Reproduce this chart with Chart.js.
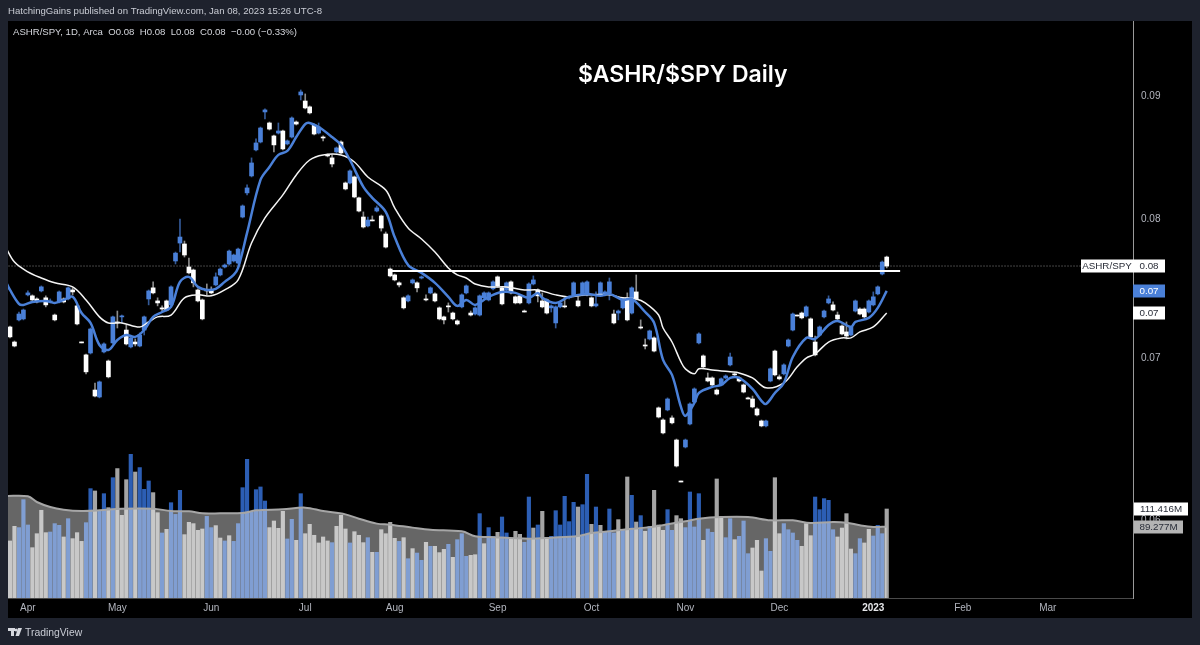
<!DOCTYPE html>
<html>
<head>
<meta charset="utf-8">
<title>ASHR/SPY Daily</title>
<style>
  html, body { margin: 0; padding: 0; background: #1e222d; }
  canvas { display: block; }
</style>
</head>
<body>
<canvas id="priceChart" width="1200" height="645"></canvas>
<script src="https://cdn.jsdelivr.net/npm/chart.js@4/dist/chart.umd.min.js"></script>
<script>
// daily candles, one entry per session
const opens = [.07215,.07112,.07264,.07271,.07440,.07433,.07411,.07468,.07419,.07390,.07298,.07390,.07411,.07411,.07475,.07362,.07112,.07025,.07038,.06793,.06748,.07045,.06984,.07106,.07250,.07285,.07194,.07079,.07112,.07085,.07194,.07411,.07490,.07397,.07348,.07397,.07369,.07685,.07818,.07811,.07641,.07619,.07475,.07404,.07475,.07475,.07511,.07583,.07641,.07663,.07685,.07670,.08015,.08202,.08336,.08546,.08611,.08862,.08769,.08661,.08685,.08702,.08595,.08652,.08777,.09007,.08955,.08905,.08752,.08685,.08652,.08505,.08481,.08530,.08611,.08280,.08280,.08328,.08163,.08015,.07947,.07992,.08061,.08023,.07886,.07626,.07583,.07526,.07419,.07397,.07526,.07526,.07561,.07411,.07454,.07447,.07348,.07285,.07362,.07312,.07257,.07355,.07454,.07312,.07305,.07298,.07419,.07404,.07483,.07569,.07490,.07475,.07533,.07426,.07433,.07326,.07383,.07518,.07475,.07397,.07404,.07348,.07243,.07355,.07362,.07419,.07440,.07397,.07440,.07440,.07419,.07362,.07440,.07440,.07454,.07305,.07312,.07348,.07419,.07312,.07461,.07215,.07092,.07133,.07140,.06678,.06601,.06665,.06614,.06476,.06227,.06433,.06576,.06716,.07106,.07018,.06872,.06872,.06793,.06826,.06872,.06958,.06899,.06872,.06826,.06742,.06735,.06671,.06595,.06564,.06852,.07051,.06879,.06899,.07085,.07194,.07298,.07312,.07291,.07271,.07112,.07160,.07285,.07383,.07369,.07298,.07222,.07181,.07160,.07326,.07340,.07340,.07319,.07369,.07447,.07590,.07714];
const closes = [.07147,.07085,.07305,.07333,.07454,.07404,.07390,.07497,.07369,.07397,.07264,.07461,.07390,.07490,.07461,.07236,.07106,.06912,.07201,.06754,.06846,.07099,.06879,.07285,.07243,.07291,.07099,.07140,.07099,.07160,.07285,.07468,.07454,.07383,.07340,.07333,.07497,.07743,.07863,.07729,.07598,.07526,.07397,.07271,.07468,.07454,.07569,.07626,.07655,.07758,.07729,.07773,.08100,.08241,.08440,.08603,.08727,.08879,.08718,.08587,.08702,.08554,.08620,.08811,.08760,.09033,.08896,.08854,.08677,.08735,.08644,.08497,.08432,.08562,.08521,.08233,.08376,.08170,.08061,.07939,.07992,.07985,.08085,.07931,.07788,.07576,.07547,.07511,.07348,.07433,.07547,.07490,.07569,.07404,.07490,.07397,.07271,.07264,.07355,.07271,.07236,.07440,.07504,.07298,.07348,.07433,.07454,.07454,.07533,.07504,.07376,.07526,.07454,.07383,.07383,.07319,.07518,.07547,.07433,.07355,.07312,.07362,.07355,.07383,.07355,.07426,.07526,.07362,.07526,.07533,.07362,.07376,.07526,.07461,.07533,.07243,.07326,.07411,.07264,.07490,.07411,.07208,.07085,.07188,.07051,.06620,.06520,.06735,.06583,.06317,.06221,.06476,.06703,.06800,.07167,.06945,.06852,.06826,.06767,.06866,.06885,.07011,.06892,.06852,.06780,.06735,.06684,.06633,.06564,.06595,.06932,.06892,.06866,.06958,.07126,.07305,.07291,.07278,.07355,.07147,.07025,.07215,.07326,.07411,.07333,.07271,.07167,.07153,.07215,.07397,.07305,.07285,.07397,.07426,.07497,.07677,.07648];
const highs = [.07222,.07119,.07319,.07340,.07468,.07440,.07419,.07504,.07433,.07411,.07305,.07468,.07419,.07497,.07490,.07369,.07112,.07031,.07208,.06839,.06852,.07106,.06991,.07291,.07326,.07298,.07229,.07147,.07133,.07174,.07291,.07475,.07533,.07419,.07362,.07404,.07504,.07751,.08000,.07833,.07707,.07626,.07483,.07411,.07518,.07497,.07598,.07634,.07663,.07766,.07736,.07781,.08108,.08265,.08481,.08636,.08735,.08888,.08777,.08669,.08769,.08710,.08628,.08820,.08786,.09050,.09016,.08913,.08760,.08769,.08661,.08513,.08505,.08570,.08620,.08288,.08384,.08336,.08170,.08054,.08015,.08023,.08100,.08031,.07901,.07634,.07590,.07533,.07426,.07440,.07554,.07533,.07576,.07440,.07497,.07454,.07355,.07291,.07383,.07319,.07264,.07447,.07511,.07326,.07355,.07440,.07461,.07461,.07540,.07576,.07497,.07533,.07540,.07433,.07440,.07333,.07526,.07576,.07483,.07454,.07411,.07369,.07362,.07390,.07419,.07433,.07533,.07426,.07533,.07540,.07426,.07461,.07533,.07468,.07561,.07333,.07333,.07419,.07454,.07497,.07583,.07264,.07133,.07194,.07147,.06684,.06608,.06742,.06627,.06482,.06227,.06482,.06710,.06807,.07174,.07025,.06905,.06879,.06800,.06872,.06892,.07038,.06905,.06879,.06833,.06748,.06754,.06678,.06601,.06601,.06938,.07058,.06892,.06965,.07133,.07312,.07298,.07319,.07362,.07278,.07153,.07222,.07333,.07433,.07390,.07319,.07229,.07250,.07222,.07404,.07348,.07348,.07404,.07461,.07504,.07685,.07721];
const lows = [.07140,.07079,.07257,.07264,.07433,.07397,.07383,.07461,.07355,.07383,.07257,.07383,.07383,.07404,.07440,.07229,.07106,.06899,.07031,.06748,.06742,.07038,.06872,.07099,.07208,.07243,.07092,.07072,.07085,.07079,.07160,.07369,.07447,.07362,.07319,.07326,.07362,.07663,.07751,.07714,.07590,.07497,.07390,.07264,.07440,.07447,.07504,.07576,.07634,.07655,.07677,.07663,.08008,.08186,.08328,.08538,.08603,.08803,.08710,.08530,.08677,.08546,.08587,.08644,.08752,.08964,.08888,.08845,.08669,.08677,.08620,.08489,.08408,.08521,.08513,.08225,.08272,.08163,.08054,.07931,.07939,.07985,.08054,.07908,.07781,.07569,.07540,.07497,.07340,.07390,.07518,.07461,.07554,.07397,.07447,.07390,.07264,.07236,.07319,.07264,.07229,.07348,.07447,.07291,.07298,.07291,.07411,.07397,.07475,.07497,.07369,.07468,.07447,.07376,.07376,.07319,.07376,.07511,.07390,.07348,.07305,.07319,.07208,.07348,.07348,.07411,.07433,.07355,.07433,.07433,.07355,.07355,.07433,.07433,.07404,.07236,.07264,.07340,.07257,.07305,.07404,.07201,.07065,.07126,.07045,.06614,.06514,.06659,.06576,.06311,.06221,.06427,.06570,.06710,.07099,.06938,.06846,.06820,.06761,.06820,.06866,.06951,.06885,.06846,.06774,.06735,.06678,.06627,.06558,.06558,.06846,.06885,.06859,.06892,.07079,.07188,.07291,.07271,.07285,.07140,.07018,.07153,.07278,.07376,.07326,.07264,.07160,.07133,.07153,.07319,.07298,.07278,.07312,.07362,.07440,.07583,.07634];

// session volume in millions, and whether the bar is coloured as an up day
const volumes = [71.4,89.7,88.1,123.1,91.4,63.0,80.5,109.8,81.8,82.6,93.1,91.0,76.4,99.3,74.3,81.8,70.9,94.3,136.9,134.0,109.8,130.6,113.1,150.6,161.9,103.5,148.1,179.9,157.7,163.2,136.0,146.5,131.9,106.8,81.4,86.0,119.3,104.7,134.8,79.3,94.7,93.1,84.7,86.4,102.2,88.1,90.6,75.1,71.4,78.0,70.9,93.1,138.1,173.6,107.7,135.6,139.0,121.4,88.1,96.4,87.2,108.5,73.9,98.5,72.2,130.6,80.5,92.2,78.5,68.9,76.4,71.4,69.3,89.7,103.5,86.4,68.9,83.0,78.5,69.3,75.5,57.2,57.2,85.5,80.5,94.7,74.7,70.9,75.5,49.2,61.8,56.3,47.2,69.7,64.7,64.7,56.8,60.9,67.2,50.9,73.0,80.5,52.2,53.4,54.2,105.6,68.0,88.1,77.2,82.2,101.4,81.4,74.7,83.5,79.7,69.7,126.4,87.6,91.4,108.5,75.5,77.2,109.3,91.4,127.3,95.6,119.8,113.9,116.8,154.8,92.2,113.9,91.0,82.6,111.4,81.4,98.1,84.7,151.5,128.5,95.1,103.1,83.5,89.7,134.8,91.4,84.7,110.6,84.7,103.1,99.3,88.1,132.7,88.9,130.6,72.2,86.4,82.2,149.0,100.2,75.5,99.3,73.0,77.2,96.4,55.5,62.6,72.2,33.8,74.3,58.4,150.6,80.5,93.1,85.5,81.4,72.2,64.7,93.1,78.0,126.4,110.6,124.4,122.3,85.5,76.4,87.6,105.6,61.3,55.5,74.3,68.9,86.0,77.6,91.0,80.5,111.416];
const volumeUp = [0,0,1,1,1,0,0,0,0,1,1,1,0,1,0,0,0,1,1,0,1,1,0,1,0,0,0,1,0,1,1,1,0,0,1,0,1,1,1,0,0,0,0,0,1,1,0,0,1,0,1,1,1,1,1,1,1,1,0,0,0,0,1,1,0,1,0,0,0,0,0,0,1,0,0,0,1,0,0,0,1,0,1,0,0,0,0,1,0,1,0,1,1,0,1,0,0,0,1,0,1,1,1,0,0,1,0,1,1,0,1,1,0,0,0,1,1,0,1,0,0,1,1,1,1,1,1,0,1,1,0,1,0,1,1,1,0,1,0,1,0,1,0,1,0,0,0,1,1,0,0,1,1,1,1,0,1,1,0,0,1,1,0,1,1,1,0,0,0,1,1,0,0,1,1,1,1,0,0,0,1,1,1,1,1,0,0,0,0,1,1,0,0,1,1,1,0];

// moving averages, read at these sessions
const fastBars = [-1,0,2,3,5,8,10,12,14,16,18,20,22,24,26,28,30,32,34,36,38,40,42,44,46,48,50,51,53,56,58,60,62,64,66,67,69,72,74,76,79,81,84,86,89,92,95,98,100,102,104,107,110,113,116,118,119,122,125,129,132,134,137,139,142,144,146,148,150,151,153,154,157,159,161,163,166,168,169,171,173,175,178,180,183,185,188,189,192,194,196];
const fastMa = [.07540,.07475,.07376,.07369,.07390,.07397,.07383,.07404,.07426,.07312,.07243,.07092,.07058,.07126,.07160,.07147,.07194,.07285,.07319,.07355,.07533,.07569,.07497,.07475,.07483,.07533,.07583,.07634,.07894,.08304,.08408,.08505,.08538,.08652,.08760,.08769,.08735,.08652,.08587,.08464,.08249,.08163,.08054,.07863,.07655,.07598,.07526,.07426,.07362,.07404,.07369,.07426,.07461,.07454,.07419,.07454,.07419,.07383,.07426,.07447,.07433,.07447,.07404,.07411,.07319,.07243,.06991,.06892,.06684,.06627,.06710,.06774,.06813,.06826,.06872,.06872,.06800,.06723,.06703,.06774,.06839,.07011,.07140,.07133,.07229,.07257,.07215,.07250,.07278,.07348,.07468];
const slowBars = [-1,1,4,7,10,14,17,20,22,25,29,31,33,36,39,42,45,48,51,54,57,61,64,67,70,74,77,80,84,86,89,92,95,98,100,102,104,107,111,115,118,122,125,129,134,137,140,142,145,146,148,150,151,153,154,157,161,163,166,169,173,176,178,180,183,186,188,190,193,196];
const slowMa = [.07788,.07677,.07605,.07561,.07526,.07497,.07404,.07285,.07243,.07243,.07215,.07250,.07285,.07298,.07419,.07440,.07433,.07475,.07547,.07818,.08008,.08186,.08344,.08464,.08505,.08505,.08448,.08328,.08225,.08085,.07931,.07848,.07751,.07634,.07583,.07561,.07518,.07497,.07497,.07475,.07475,.07440,.07426,.07440,.07440,.07419,.07411,.07383,.07298,.07208,.07112,.06978,.06932,.06899,.06932,.06925,.06912,.06905,.06872,.06807,.06839,.06945,.07004,.07031,.07112,.07140,.07140,.07181,.07215,.07312];
const volMaBars = [-1,4,6,9,12,16,20,25,32,36,40,43,47,52,55,61,66,70,75,78,82,85,90,94,101,104,107,116,121,127,130,134,137,142,147,151,154,159,165,170,175,179,184,187,190,193,196];
const volMa = [127.7,127.3,120.2,113.9,110.6,108.9,109.7,111.8,111.8,108.9,108.5,106.0,106.0,106.4,109.7,111.0,113.1,108.9,104.7,99.3,93.1,91.8,88.1,85.5,83.5,77.2,76.4,74.3,75.5,77.6,81.4,83.5,85.5,88.1,92.2,96.0,99.3,101.4,101.4,97.2,97.2,93.9,95.1,94.3,91.0,88.9,89.277];

// horizontal level drawn across the range
const levelBars = [85, 199];
const levelValue = .07612;

// axis labels
const priceTicks = [.09, .08, .07, .06];
const monthBars = [4, 24, 45, 66, 86, 109, 130, 151, 172, 193, 213, 232];
const monthLabels = ["Apr", "May", "Jun", "Jul", "Aug", "Sep", "Oct", "Nov", "Dec", "2023", "Feb", "Mar"];

const BLUE = "#4a80d8";
const FONT = "'Liberation Sans', sans-serif";
const lastBar = opens.length - 1;

const pointsOf = (bars, values) => bars.map((bar, i) => ({ x: bar, y: values[i] }));
const isDown = i => closes[i] < opens[i];
const isYearTick = ctx => !!ctx.tick && monthLabels[monthBars.indexOf(ctx.tick.value)] === "2023";

const datasets = [
    {   // white level line
        type: "line", yAxisID: "y", order: 1,
        data: pointsOf(levelBars, [levelValue, levelValue]),
        borderColor: "#ffffff", borderWidth: 2, pointRadius: 0
    },
    {
        type: "line", yAxisID: "y", order: 2,
        data: pointsOf(fastBars, fastMa),
        borderColor: BLUE, borderWidth: 2.5, pointRadius: 0, tension: 0.35
    },
    {
        type: "line", yAxisID: "y", order: 3,
        data: pointsOf(slowBars, slowMa),
        borderColor: "#f4f4f4", borderWidth: 1.5, pointRadius: 0, tension: 0.35
    },
    {   // candle bodies
        type: "bar", yAxisID: "y", order: 4,
        data: opens.map((o, i) => ({ x: i, y: [o, closes[i]] })),
        backgroundColor: opens.map((o, i) => isDown(i) ? "#ffffff" : BLUE),
        barThickness: 4, minBarLength: 1
    },
    {   // candle wicks
        type: "bar", yAxisID: "y", order: 5,
        data: opens.map((o, i) => ({ x: i, y: [lows[i], highs[i]] })),
        backgroundColor: opens.map((o, i) => isDown(i) ? "rgba(255,255,255,0.55)" : "rgba(74,128,216,0.7)"),
        barThickness: 1
    },
    {   // last close, dotted across the pane
        type: "line", yAxisID: "y", order: 6,
        data: pointsOf([-1, 252], [closes[lastBar], closes[lastBar]]),
        borderColor: "#8a8a8a", borderWidth: 1, borderDash: [1, 2], pointRadius: 0
    },
    {   // volume average, filled down to the base
        type: "line", yAxisID: "yVol", order: 7,
        data: pointsOf(volMaBars, volMa),
        borderColor: "#a6a6a6", borderWidth: 2, pointRadius: 0,
        fill: "origin", backgroundColor: "rgba(255,255,255,0.4)", tension: 0.35
    },
    {
        type: "bar", yAxisID: "yVol", order: 8,
        data: volumes.map((v, i) => ({ x: i, y: v })),
        backgroundColor: volumeUp.map(up => up ? "#2c5eb4" : "#a4a4a4"),
        barThickness: 3.5
    }
];

// a small price tag on the axis strip
function tag(ctx, text, left, y, width, fill, color) {
    ctx.fillStyle = fill;
    ctx.fillRect(left, Math.round(y) - 6.5, width, 13);
    ctx.fillStyle = color;
    ctx.textAlign = "center";
    ctx.fillText(text, left + width / 2, y + 0.5);
}

const framePlugin = {
    id: "frame",
    beforeDraw(chart) {
        const { ctx, width, height } = chart;
        ctx.save();
        ctx.fillStyle = "#1e222d";
        ctx.fillRect(0, 0, width, height);
        ctx.fillStyle = "#000000";
        ctx.fillRect(8, 21, 1184, 597);
        ctx.restore();
    },
    afterDraw(chart) {
        const { ctx, chartArea, scales } = chart;
        const right = chartArea.right;
        ctx.save();
        ctx.textBaseline = "middle";

        // header lines
        ctx.textAlign = "left";
        ctx.fillStyle = "#c9ccd4";
        ctx.font = "9.6px " + FONT;
        ctx.fillText("HatchingGains published on TradingView.com, Jan 08, 2023 15:26 UTC-8", 8, 11);
        ctx.fillStyle = "#d4d6dc";
        ctx.font = "9.6px " + FONT;
        ctx.fillText("ASHR/SPY, 1D, Arca  O0.08  H0.08  L0.08  C0.08  \u22120.00 (\u22120.33%)", 13, 32);

        ctx.fillStyle = "#ffffff";
        ctx.font = "600 23px Inter, " + FONT;
        ctx.fillText("$ASHR/$SPY Daily", 578, 75);

        // footer mark and name
        ctx.fillStyle = "#d6d8de";
        ctx.fillRect(8, 628, 7, 3);
        ctx.fillRect(11, 628, 3, 8);
        ctx.beginPath();
        ctx.arc(16.2, 630, 1.5, 0, Math.PI * 2);
        ctx.fill();
        ctx.beginPath();
        ctx.moveTo(18, 628);
        ctx.lineTo(22, 628);
        ctx.lineTo(19, 636);
        ctx.lineTo(15.5, 636);
        ctx.fill();
        ctx.font = "10.4px " + FONT;
        ctx.fillStyle = "#c9ccd4";
        ctx.fillText("TradingView", 25, 633);

        // value tags, placed from the last values of each series
        ctx.font = "9.8px " + FONT;
        const closeY = scales.y.getPixelForValue(closes[lastBar]);
        tag(ctx, "ASHR/SPY", right - 52, closeY, 52, "#ffffff", "#2a2e39");
        tag(ctx, closes[lastBar].toFixed(2), right, closeY, 32, "#ffffff", "#2a2e39");
        tag(ctx, fastMa[fastMa.length - 1].toFixed(2), right, scales.y.getPixelForValue(fastMa[fastMa.length - 1]), 32, BLUE, "#ffffff");
        tag(ctx, slowMa[slowMa.length - 1].toFixed(2), right, scales.y.getPixelForValue(slowMa[slowMa.length - 1]), 32, "#ffffff", "#2a2e39");
        tag(ctx, volumes[lastBar].toFixed(3) + "M", right + 1, scales.yVol.getPixelForValue(volumes[lastBar]), 54, "#ffffff", "#2a2e39");
        tag(ctx, volMa[volMa.length - 1].toFixed(3) + "M", right + 1, scales.yVol.getPixelForValue(volMa[volMa.length - 1]), 49, "#b4b4b4", "#2a2e39");
        ctx.restore();
    }
};

new Chart(document.getElementById("priceChart"), {
    data: { datasets },
    plugins: [framePlugin],
    options: {
        responsive: false,
        animation: false,
        events: [],
        layout: { padding: { left: 8, right: 8, top: 21, bottom: 27 } },
        datasets: { bar: { grouped: false } },
        plugins: { legend: { display: false }, tooltip: { enabled: false } },
        scales: {
            x: {
                type: "linear",
                offset: false,
                min: -0.447,
                max: 251.06,
                grid: { display: false, drawTicks: false },
                border: { display: true, color: "#4a4a4a" },
                afterBuildTicks: scale => { scale.ticks = monthBars.map(value => ({ value })); },
                afterFit: scale => { scale.height = 20; },
                ticks: {
                    autoSkip: false,
                    maxRotation: 0,
                    padding: 4,
                    color: ctx => isYearTick(ctx) ? "#e6e7ea" : "#b2b5be",
                    font: ctx => ({
                        family: FONT,
                        size: 10,
                        weight: isYearTick(ctx) ? "bold" : "normal"
                    }),
                    callback: value => monthLabels[monthBars.indexOf(value)]
                }
            },
            y: {
                type: "logarithmic",
                position: "right",
                min: .05568,
                max: .09667,
                grid: { display: false, drawTicks: false },
                border: { display: true, color: "#9a9a9a" },
                afterBuildTicks: scale => { scale.ticks = priceTicks.map(value => ({ value })); },
                afterFit: scale => { scale.width = 59; },
                ticks: {
                    autoSkip: false,
                    padding: 8,
                    color: "#b2b5be",
                    font: { family: FONT, size: 10 },
                    callback: value => value.toFixed(2)
                }
            },
            yVol: {
                display: false,
                min: 0,
                max: 722.3
            }
        }
    }
});
</script>
</body>
</html>
